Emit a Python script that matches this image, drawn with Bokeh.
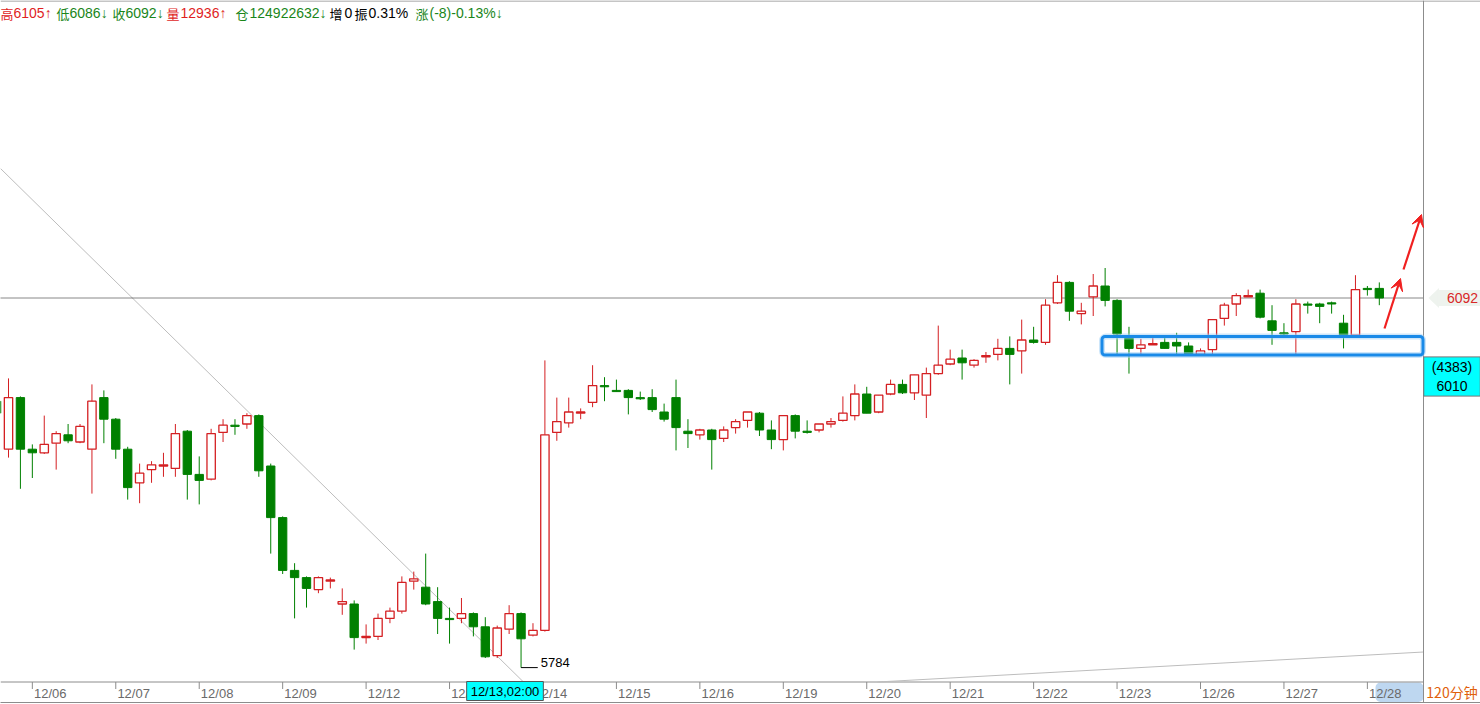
from bokeh.plotting import figure
from bokeh.models import (Range1d, FixedTicker, LinearAxis, Span, Label, BoxAnnotation,
                          Arrow, VeeHead, ColumnDataSource, GlobalInlineStyleSheet)
from bokeh.core.properties import value
from bokeh.embed import file_html
from bokeh.resources import INLINE

# ---------------- data (120-minute bars) ----------------
bars = list(range(-1, 116))
opens = [6006, 5966, 6009, 5966, 5963, 5971, 5978, 5972, 5966, 6009,
         5991, 5966, 5938, 5949, 5952, 5950, 5981, 5945, 5941, 5980,
         5986, 5987, 5994, 5952, 5909, 5865, 5859, 5849, 5856, 5837,
         5837, 5809, 5810, 5825, 5831, 5856, 5851, 5839, 5825, 5825,
         5829, 5818, 5794, 5816, 5829, 5811, 5815, 5980, 5988, 5996,
         6005, 6019, 6015, 6015, 6009, 6009, 5997, 6009, 5981, 5978,
         5982, 5975, 5984, 5990, 5996, 5982, 5974, 5994, 5981, 5982,
         5987, 5990, 5994, 6012, 5997, 6012, 6020, 6013, 6011, 6029,
         6037, 6042, 6036, 6043, 6045, 6050, 6048, 6057, 6055, 6088,
         6105, 6079, 6093, 6102, 6090, 6059, 6050, 6053, 6055, 6055,
         6052, 6045, 6049, 6075, 6087, 6093, 6096, 6073, 6063, 6064,
         6087, 6087, 6088, 6071, 6061, 6100, 6100]
highs = [6008, 6025, 6010, 5970, 5994, 5981, 5987, 5987, 6020, 6015,
         5992, 5968, 5954, 5956, 5963, 5987, 5982, 5960, 5983, 5991,
         5991, 5996, 5995, 5954, 5910, 5871, 5860, 5860, 5859, 5850,
         5840, 5820, 5829, 5834, 5860, 5864, 5879, 5851, 5834, 5842,
         5830, 5826, 5819, 5836, 5830, 5821, 6040, 6009, 6009, 6000,
         6036, 6026, 6024, 6016, 6014, 6016, 6004, 6024, 5991, 5983,
         5983, 5985, 5991, 5997, 5997, 5990, 5994, 5995, 5990, 5987,
         5992, 6010, 6020, 6018, 6011, 6024, 6024, 6028, 6034, 6069,
         6049, 6049, 6041, 6047, 6058, 6060, 6074, 6068, 6091, 6111,
         6106, 6088, 6112, 6117, 6091, 6068, 6058, 6059, 6059, 6063,
         6055, 6050, 6074, 6088, 6096, 6099, 6099, 6086, 6071, 6091,
         6089, 6088, 6089, 6078, 6111, 6102, 6105]
lows = [5996, 5959, 5933, 5942, 5962, 5949, 5971, 5971, 5929, 5971,
        5958, 5924, 5921, 5938, 5943, 5943, 5924, 5920, 5940, 5972,
        5978, 5983, 5943, 5879, 5862, 5825, 5834, 5846, 5850, 5828,
        5799, 5804, 5807, 5821, 5829, 5849, 5836, 5812, 5804, 5821,
        5810, 5792, 5792, 5812, 5784, 5810, 5814, 5973, 5984, 5991,
        6001, 6006, 6014, 5995, 6007, 5997, 5989, 5965, 5967, 5974,
        5949, 5972, 5979, 5984, 5977, 5966, 5965, 5975, 5979, 5980,
        5984, 5989, 5990, 5996, 5996, 6011, 6012, 6007, 5992, 6028,
        6036, 6024, 6034, 6038, 6040, 6020, 6029, 6054, 6053, 6087,
        6073, 6070, 6077, 6085, 6045, 6029, 6045, 6053, 6050, 6045,
        6045, 6044, 6044, 6069, 6077, 6093, 6075, 6053, 6060, 6045,
        6079, 6071, 6079, 6050, 6059, 6094, 6086]
closes = [5996, 6009, 5966, 5963, 5970, 5979, 5973, 5985, 6006, 5991,
          5966, 5934, 5946, 5953, 5953, 5979, 5945, 5940, 5979, 5986,
          5985, 5994, 5948, 5909, 5865, 5859, 5850, 5859, 5857, 5839,
          5809, 5810, 5825, 5831, 5855, 5858, 5837, 5825, 5824, 5829,
          5818, 5793, 5817, 5829, 5808, 5815, 5978, 5989, 5997, 5997,
          6019, 6018, 6014, 6009, 6008, 5999, 5991, 5984, 5979, 5982,
          5974, 5982, 5989, 5997, 5982, 5974, 5994, 5981, 5980, 5987,
          5989, 5996, 6012, 5996, 6011, 6020, 6013, 6028, 6029, 6036,
          6041, 6038, 6040, 6044, 6050, 6045, 6057, 6055, 6086, 6105,
          6081, 6081, 6102, 6090, 6062, 6050, 6053, 6054, 6050, 6052,
          6045, 6048, 6074, 6086, 6094, 6094, 6076, 6065, 6062, 6087,
          6086, 6085, 6087, 6061, 6099, 6099, 6092]

day_labels = ["12/06", "12/07", "12/08", "12/09", "12/12", "12/13", "12/14", "12/15", "12/16",
              "12/19", "12/20", "12/21", "12/22", "12/23", "12/26", "12/27", "12/28"]
day_first_bar = [2, 9, 16, 23, 30, 37, 44, 51, 58, 65, 72, 79, 86, 93, 100, 107, 114]

header_texts = ["高", "6105↑", "低", "6086↓", "收", "6092↓", "量", "12936↑", "仓", "124922632↓",
                "增", "0", "振", "0.31%", "涨", "(-8)-0.13%↓"]
header_kind = ["up", "up", "dn", "dn", "dn", "dn", "up", "up", "dn", "dn",
               "k", "k", "k", "k", "dn", "dn"]

last_price = 6092
low_mark = 5784
low_bar = 43
cursor_time = "12/13,02:00"
cursor_count = 4383
cursor_price = 6010
period_text = "120分钟"

assert len(bars) == len(opens) == len(highs) == len(lows) == len(closes)

# ---------------- layout helpers (pixel -> data, for annotations) ----------------
W, H = 1480, 704
FRAME_BOTTOM = 702      # bottom line of the time band
BAND_TOP = 681.5        # top line of the time band
PANEL_X = 1423          # left edge of the right-hand price panel
BAR_PX = 11.92
X0_PX = 8.0
PT_PX = 1.2
TOP_PRICE = last_price + 297.5 / PT_PX


def bx(px):
    return (px - X0_PX) / BAR_PX


def py(px):
    return TOP_PRICE - px / PT_PX


RED = "#D41F22"
GREEN = "#008000"
GRID = "#8C8C8C"
HDR = {"up": "#E01E1E", "dn": "#1A861A", "k": "#000000"}

p = figure(width=W, height=H, output_backend="svg", toolbar_location=None,
           x_range=Range1d(bx(0), bx(W)), y_range=Range1d(py(FRAME_BOTTOM), py(0)),
           x_axis_location=None, y_axis_location=None,
           min_border_left=0, min_border_right=0, min_border_top=0, min_border_bottom=H - FRAME_BOTTOM,
           background_fill_color="white", border_fill_color="white")
p.grid.visible = False
p.outline_line_color = None
p.stylesheets = [GlobalInlineStyleSheet(css="html, body {margin:0 !important; padding:0; overflow:hidden;}")]

# time band: highlight of the current day (under the axis labels)
p.add_layout(BoxAnnotation(left=bx(1375), right=bx(PANEL_X), top=py(BAND_TOP + 0.5), bottom=py(701.5),
                           fill_color="#BED7F0", fill_alpha=1, line_alpha=0, level="underlay",
                           border_radius=5))

# panel separators
p.add_layout(Span(location=bx(PANEL_X), dimension="height", line_color=GRID, line_width=1))
p.segment(x0=[bx(0), bx(0)], y0=[py(BAND_TOP), py(0.5)], x1=[bx(PANEL_X), bx(W)], y1=[py(BAND_TOP), py(0.5)],
          line_color=GRID, line_width=1)
p.segment(x0=day_first_bar, y0=[py(BAND_TOP)] * len(day_first_bar),
          x1=day_first_bar, y1=[py(BAND_TOP + 7)] * len(day_first_bar), line_color=GRID, line_width=1)

# trend lines
p.segment(x0=[bx(0), bx(877)], y0=[py(168), py(BAND_TOP)], x1=[bx(523), bx(PANEL_X)], y1=[py(BAND_TOP), py(651.5)],
          line_color="#BDBDBD", line_width=1)

# last price dotted line
p.segment(x0=[bx(0)], y0=[last_price], x1=[bx(PANEL_X)], y1=[last_price],
          line_color="#111111", line_dash="1 1", line_width=1)

# candles
up = dict(x=[], o=[], h=[], l=[], c=[], top=[], bot=[])
dn = dict(x=[], o=[], h=[], l=[], c=[], top=[], bot=[])
for b, o, h, l, c in zip(bars, opens, highs, lows, closes):
    d = up if c >= o else dn
    d["x"].append(b); d["o"].append(o); d["h"].append(h); d["l"].append(l); d["c"].append(c)
    d["top"].append(max(o, c)); d["bot"].append(min(o, c))
src_up = ColumnDataSource(up)
src_dn = ColumnDataSource(dn)

p.segment(x0="x", y0="l", x1="x", y1="h", source=src_up, line_color=RED, line_width=1)
p.segment(x0="x", y0="l", x1="x", y1="h", source=src_dn, line_color=GREEN, line_width=1)
p.vbar(x="x", top="top", bottom="bot", width=0.70, source=src_up,
       fill_color="white", line_color=RED, line_width=1.3)
p.vbar(x="x", top="top", bottom="bot", width=0.70, source=src_dn,
       fill_color=GREEN, line_color=GREEN, line_width=1)

# low marker
p.segment(x0=[low_bar], y0=[low_mark], x1=[low_bar + 1.4], y1=[low_mark], line_color="#000000", line_width=1)
p.text(x=[low_bar + 1.65], y=[low_mark + 4.5], text=[str(low_mark)], text_font=value("Liberation Sans"),
       text_font_size="13px", text_color="#000000", text_baseline="middle", text_align="left")

# highlighted range box (soft glow + solid blue line)
p.add_layout(BoxAnnotation(left=bx(1101.5), right=bx(1422.5), top=py(336), bottom=py(354.5),
                           fill_alpha=0, line_color="#9CCEF6", line_alpha=0.5, line_width=6,
                           border_radius=4))
p.add_layout(BoxAnnotation(left=bx(1101.5), right=bx(1422.5), top=py(336), bottom=py(354.5),
                           fill_alpha=0, line_color="#1A8AE8", line_alpha=1, line_width=3,
                           border_radius=3))

# red arrows
for (xa, ya, xb, yb) in [(1384, 328, 1400, 278), (1403, 269, 1421, 214)]:
    p.add_layout(Arrow(end=VeeHead(size=12, fill_color="#F02020", line_color="#F02020"),
                       x_start=bx(xa), y_start=py(ya), x_end=bx(xb), y_end=py(yb),
                       line_color="#F02020", line_width=2.2))

# header line
hx_px = [0, 13, 56, 69, 112, 125, 166, 180, 235, 249, 329, 344, 354, 368, 415, 429]
cjk = dict(x=[], y=[], t=[], col=[])
lat = dict(x=[], y=[], t=[], col=[])
for t, k, xp in zip(header_texts, header_kind, hx_px):
    d = cjk if len(t) == 1 and ord(t) > 0x3000 else lat
    d["x"].append(bx(xp)); d["y"].append(py(12.5)); d["t"].append(t); d["col"].append(HDR[k])
p.text(x="x", y="y", text="t", text_color="col", source=ColumnDataSource(cjk),
       text_font=value("Noto Sans CJK SC"), text_font_size="13px", text_baseline="middle", text_align="left")
p.text(x="x", y="y", text="t", text_color="col", source=ColumnDataSource(lat),
       text_font=value("Liberation Sans"), text_font_size="14px", text_baseline="middle", text_align="left")

# bottom time axis (its line is the band's bottom line, labels drawn up into the band)
centers = [d + 1.5 for d in day_first_bar]
ax = LinearAxis(ticker=FixedTicker(ticks=centers, minor_ticks=[]),
                major_label_overrides={c: l for c, l in zip(centers, day_labels)},
                major_tick_in=0, major_tick_out=0, minor_tick_in=0, minor_tick_out=0,
                axis_line_color=GRID,
                major_label_text_font="Liberation Sans", major_label_text_font_size="13px",
                major_label_text_color="#6A6A6A", major_label_standoff=-17)
p.add_layout(ax, "below")

# price-panel flags
p.patch(x=[bx(1428), bx(1438.5), bx(1438.5)], y=[last_price, py(287.5), py(307.5)],
        fill_color="#EEF3EE", line_alpha=0)
p.add_layout(Label(x=bx(1462), y=last_price, text=str(last_price), text_align="center", text_baseline="middle",
                   text_font="Liberation Sans", text_font_size="14px", text_color="#D82828",
                   background_fill_color="#EEF3EE", padding=dict(x=9, y=3)))
p.add_layout(Label(x=bx(1451.5), y=py(376), text=f"({cursor_count})\n{cursor_price}", text_align="center",
                   text_baseline="middle", text_font="Liberation Sans", text_font_size="14px",
                   text_color="#000000", text_line_height=1.2,
                   background_fill_color="#00FFFF", border_line_color="#777777", padding=dict(x=8, y=2)))

# cursor time and period
p.add_layout(Label(x=bx(504.5), y=py(690.5), text=cursor_time, text_align="center", text_baseline="middle",
                   text_font="Liberation Sans", text_font_size="13px", text_color="#000000",
                   background_fill_color="#00FFFF", border_line_color="#555555", padding=dict(x=4, y=2)))
p.add_layout(Label(x=bx(1451.5), y=py(691), text=period_text, text_align="center", text_baseline="middle",
                   text_font="Noto Sans CJK SC", text_font_size="14px", text_color="#E0600A"))

open("out.html", "w").write(file_html(p, INLINE))
